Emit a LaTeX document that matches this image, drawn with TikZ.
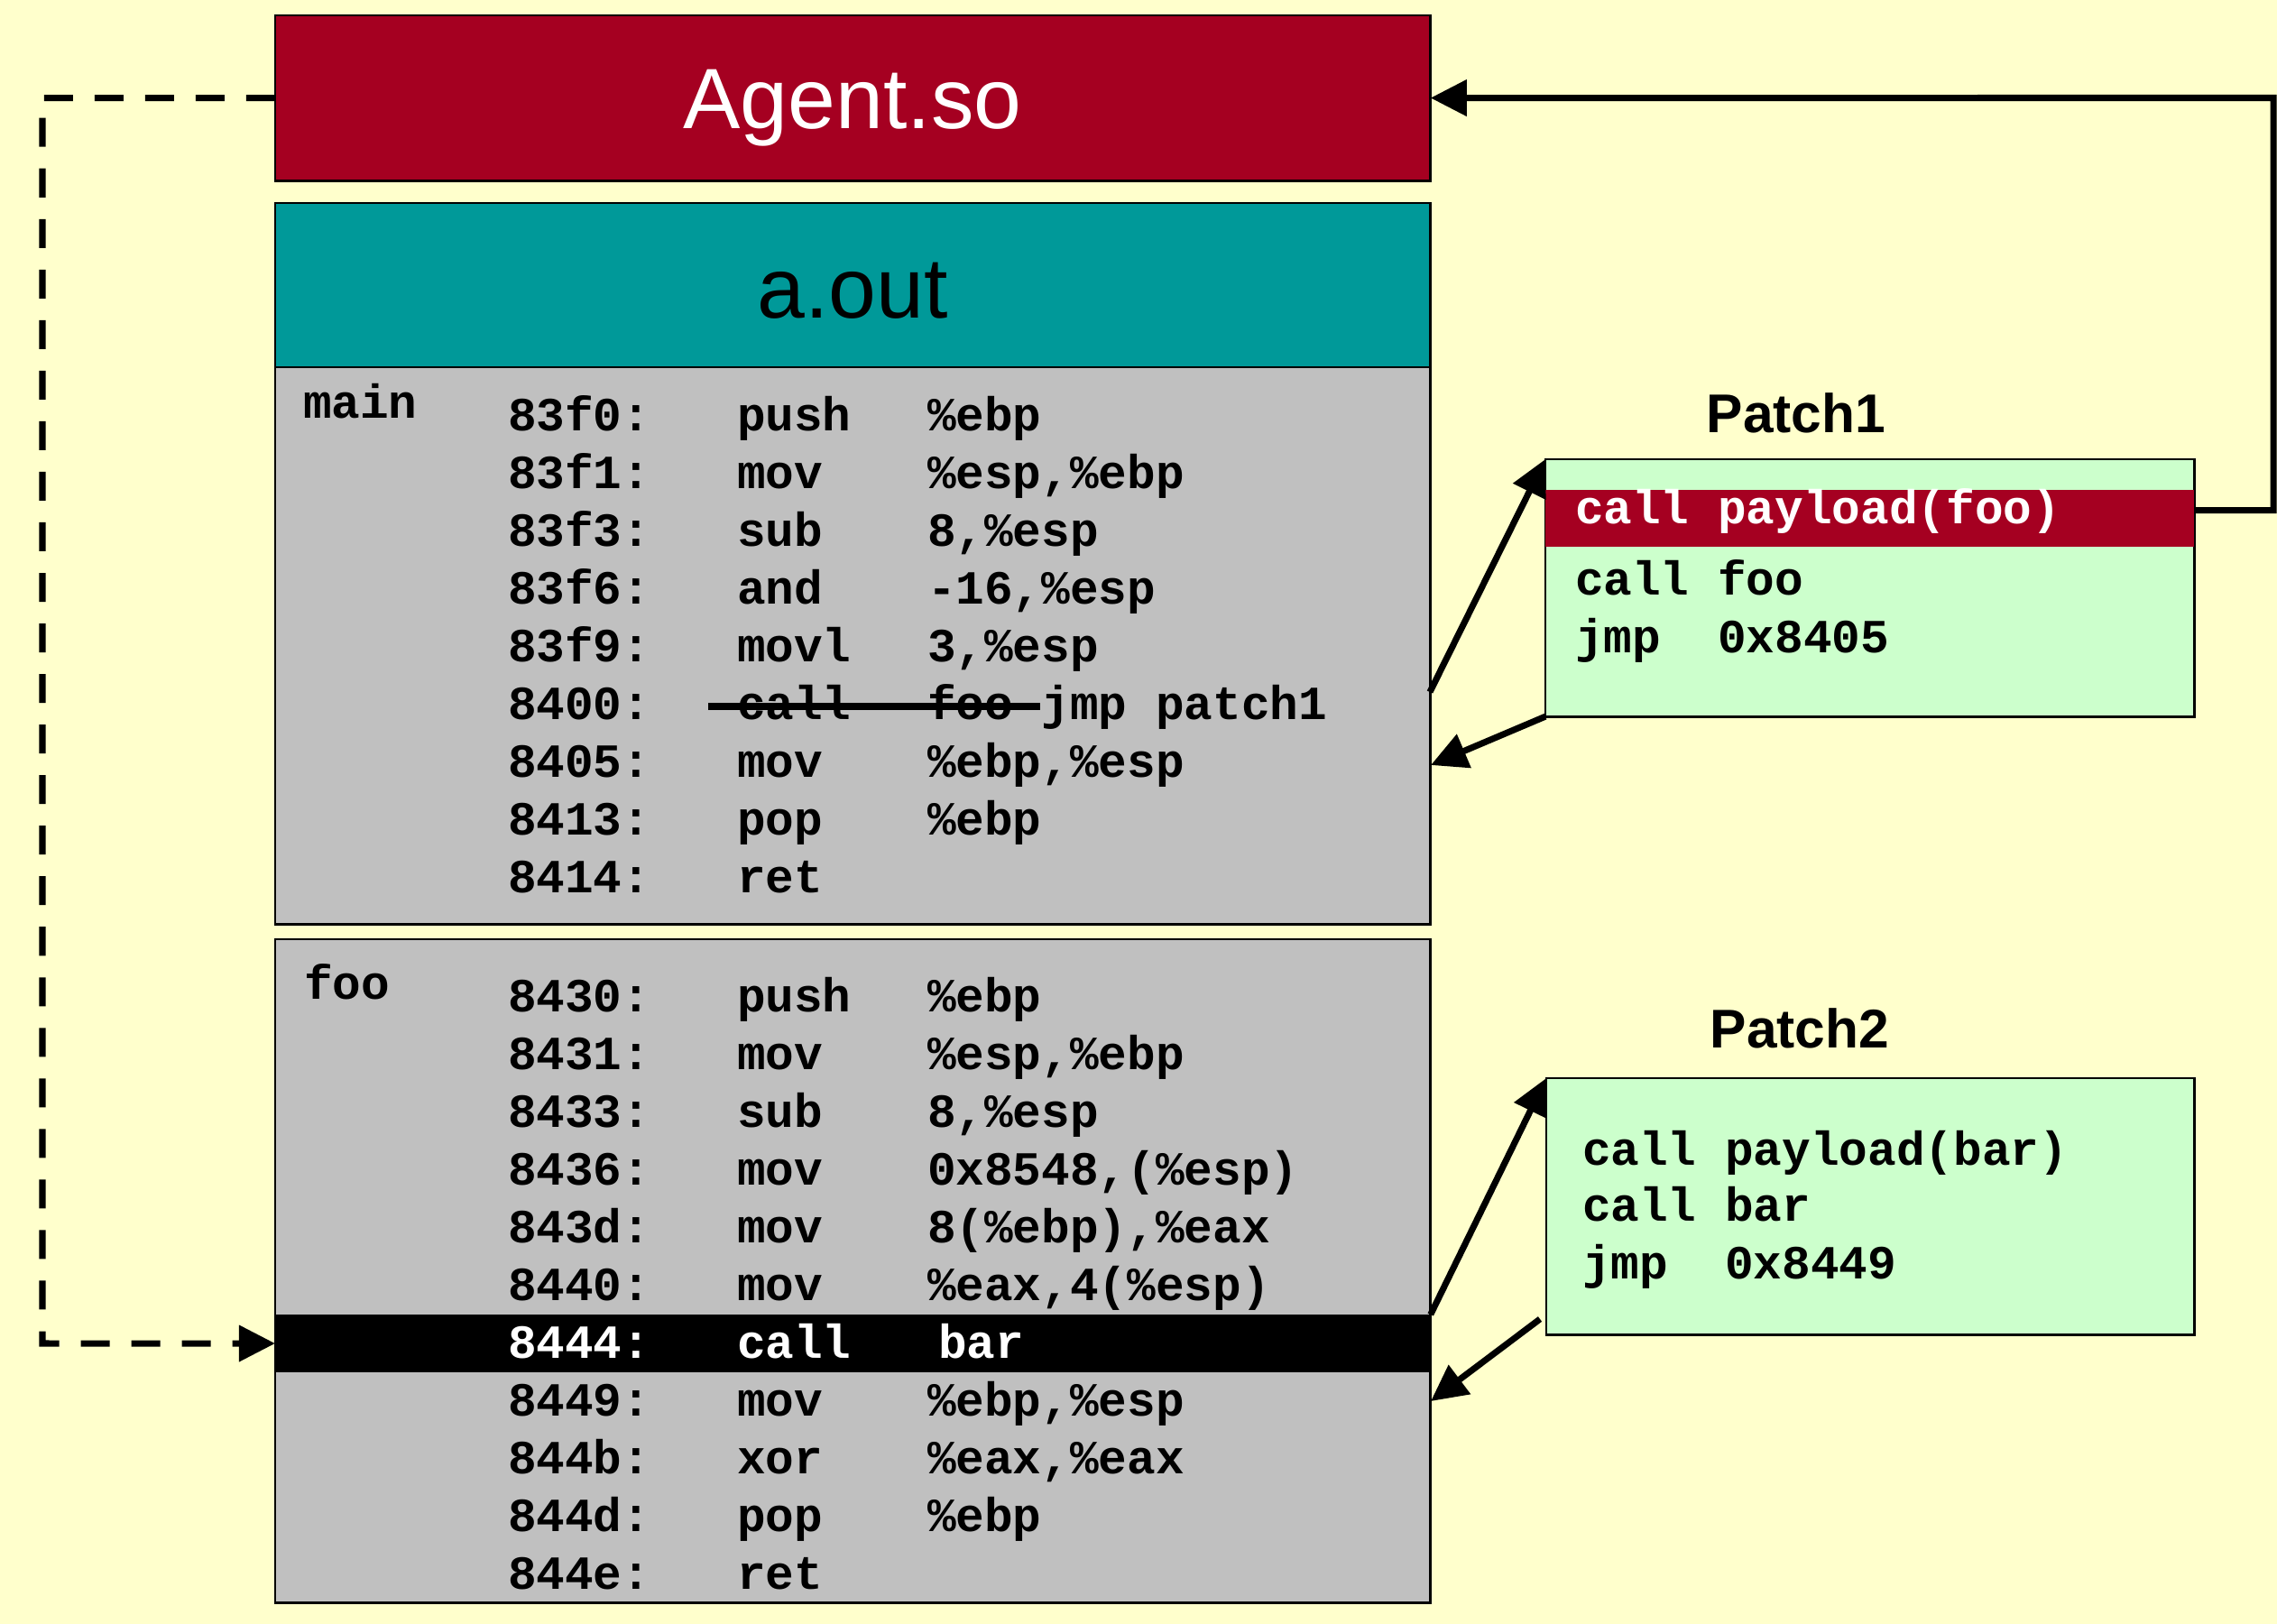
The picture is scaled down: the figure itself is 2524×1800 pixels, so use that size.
\documentclass[tikz,border=0pt]{standalone}
\usepackage{fontspec}
\usetikzlibrary{arrows.meta}
\newfontfamily\codef{Liberation Mono}
\newfontfamily\sansf{Liberation Sans}
\definecolor{bgyel}{HTML}{FFFFCC}
\definecolor{agentred}{HTML}{A50021}
\definecolor{tealc}{HTML}{009999}
\definecolor{greyc}{HTML}{C0C0C0}
\definecolor{greenc}{HTML}{CCFFCC}
\newcommand{\codeln}[5]{%
  \node[code] (#1a) at (563,#2) {#3};
  \node[code] (#1b) at (817,#2) {#4};
  \node[code] (#1c) at (1028,#2) {#5};}
\begin{document}
\begin{tikzpicture}[x=0.01cm,y=-0.01cm,
  box/.style={draw=black, line width=0.8pt, inner sep=0pt, outer sep=0pt, anchor=north west},
  code/.style={anchor=base west, inner sep=0pt, outer sep=0pt, font=\codef\bfseries\fontsize{15}{18}\selectfont},
  title/.style={anchor=base, inner sep=0pt, font=\sansf\fontsize{27}{32}\selectfont},
  ptitle/.style={anchor=base, inner sep=0pt, font=\sansf\bfseries\fontsize{17.2}{20}\selectfont},
  conn/.style={line width=2pt, -{Triangle[length=4mm,width=3.9mm]}},
  dashconn/.style={conn, dash pattern=on 3.2mm off 2.4mm}]
\fill[bgyel] (0,0) rectangle (2524,1800);
\useasboundingbox (0,0) rectangle (2524,1800);
% boxes
\node[box, fill=agentred, minimum width=12.8cm, minimum height=1.83cm] (agent) at (305,17) {};
\node[box, fill=tealc, minimum width=12.8cm, minimum height=1.82cm] (aout) at (305,225) {};
\node[box, fill=greyc, minimum width=12.8cm, minimum height=6.17cm] (mainb) at (305,407) {};
\node[box, fill=greyc, minimum width=12.8cm, minimum height=7.35cm] (foob) at (305,1041) {};
\node[box, draw=none, fill=black, minimum width=12.8cm, minimum height=0.64cm] (bar) at (305,1457) {};
\node[box, fill=greenc, minimum width=7.19cm, minimum height=2.85cm] (p1) at (1713,509) {};
\node[box, draw=none, fill=agentred, minimum width=7.19cm, minimum height=0.63cm] (p1bar) at (1713,543) {};
\node[box, fill=greenc, minimum width=7.18cm, minimum height=2.84cm] (p2) at (1714,1195) {};
% titles
\node[title, text=white] (agentlbl) at (945,143) {Agent.so};
\node[title, text=black] (aoutlbl) at (945,352) {a.out};
\node[ptitle] (p1lbl) at (1991,479) {Patch1};
\node[ptitle] (p2lbl) at (1995,1161) {Patch2};
% main
\node[code] (mainlbl) at (336,463) {main};
\codeln{m1}{477}{83f0:}{push}{\%ebp}
\codeln{m2}{541}{83f1:}{mov}{\%esp,\%ebp}
\codeln{m3}{605}{83f3:}{sub}{8,\%esp}
\codeln{m4}{669}{83f6:}{and}{-16,\%esp}
\codeln{m5}{733}{83f9:}{movl}{3,\%esp}
\codeln{m6}{797}{8400:}{call}{foo jmp patch1}
\codeln{m7}{861}{8405:}{mov}{\%ebp,\%esp}
\codeln{m8}{925}{8413:}{pop}{\%ebp}
\codeln{m9}{989}{8414:}{ret}{}
\draw[line width=2pt] (785,783) -- (1153,783);
% foo
\node[code] (foolbl) at (337,1107) {foo};
\codeln{f1}{1121}{8430:}{push}{\%ebp}
\codeln{f2}{1185}{8431:}{mov}{\%esp,\%ebp}
\codeln{f3}{1249}{8433:}{sub}{8,\%esp}
\codeln{f4}{1313}{8436:}{mov}{0x8548,(\%esp)}
\codeln{f5}{1377}{843d:}{mov}{8(\%ebp),\%eax}
\codeln{f6}{1441}{8440:}{mov}{\%eax,4(\%esp)}
\node[code, text=white] (f7a) at (563,1505) {8444:};
\node[code, text=white] (f7b) at (817,1505) {call};
\node[code, text=white] (f7c) at (1040,1505) {bar};
\codeln{f8}{1569}{8449:}{mov}{\%ebp,\%esp}
\codeln{f9}{1633}{844b:}{xor}{\%eax,\%eax}
\codeln{f10}{1697}{844d:}{pop}{\%ebp}
\codeln{f11}{1761}{844e:}{ret}{}
% patch texts
\node[code, text=white] (p1t1) at (1746,580) {call payload(foo)};
\node[code] (p1t2) at (1746,659) {call foo};
\node[code] (p1t3) at (1746,723) {jmp\ \ 0x8405};
\node[code] (p2t1) at (1754,1291) {call payload(bar)};
\node[code] (p2t2) at (1754,1353) {call bar};
\node[code] (p2t3) at (1754,1417) {jmp\ \ 0x8449};
% connectors
\coordinate (dl) at (47,1489);
\draw[dashconn] (agent.west) -| (dl) -- (bar.west);
\coordinate (rc) at (2520,108.5);
\draw[conn] ([yshift=0.9mm]p1bar.east) -| (rc) -- (agent.east);
\coordinate (a3s) at (1585,767);
\draw[conn] (a3s) -- (p1.north west);
\coordinate (a4e) at (1586,848);
\draw[conn] (p1.south west) -- (a4e);
\draw[conn] (bar.north east) -- (p2.north west);
\coordinate (a6s) at (1707,1462);
\coordinate (a6e) at (1586,1553);
\draw[conn] (a6s) -- (a6e);
\end{tikzpicture}
\end{document}
